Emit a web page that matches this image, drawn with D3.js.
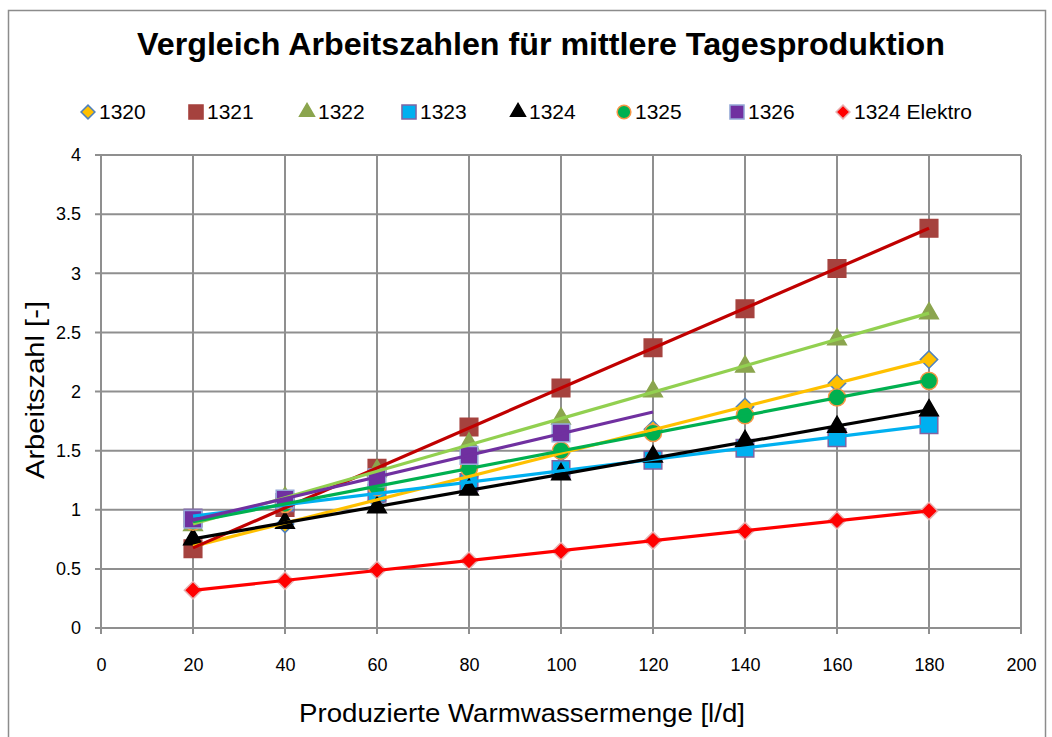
<!DOCTYPE html>
<html>
<head>
<meta charset="utf-8">
<script src="https://cdn.jsdelivr.net/npm/d3@7"></script>
<style>
  body { margin: 0; background: #fff; }
  text { font-family: "Liberation Sans Narrow", "Liberation Sans", Arial, sans-serif; fill: #000; }
</style>
</head>
<body>
<svg width="1052" height="737"></svg>
<script>
// values
var xValues = [20, 40, 60, 80, 100, 120, 140, 160, 180];
var s1320 = [0.70, 0.88, 1.08, 1.28, 1.48, 1.68, 1.87, 2.07, 2.27];
var s1321 = [0.67, 1.02, 1.35, 1.70, 2.03, 2.37, 2.70, 3.04, 3.38];
var s1322 = [0.87, 1.10, 1.33, 1.56, 1.77, 2.00, 2.21, 2.44, 2.66];
var s1323 = [0.93, 1.06, 1.14, 1.23, 1.34, 1.42, 1.52, 1.61, 1.72];
var s1324 = [0.75, 0.89, 1.02, 1.17, 1.30, 1.45, 1.58, 1.70, 1.84];
var s1325 = [0.90, 1.05, 1.19, 1.35, 1.50, 1.65, 1.80, 1.95, 2.09];
var s1326 = [0.92, 1.09, 1.27, 1.46, 1.65];
var sElektro = [0.32, 0.40, 0.49, 0.57, 0.65, 0.74, 0.82, 0.91, 0.99];

var seriesNames = ["1320", "1321", "1322", "1323", "1324", "1325", "1326", "1324 Elektro"];
var seriesValues = [s1320, s1321, s1322, s1323, s1324, s1325, s1326, sElektro];
// x end of the linear trend line (1326 is projected 20 l/d forward)
var trendTo = [180, 180, 180, 180, 180, 180, 120, 180];

var xTicks = [0, 20, 40, 60, 80, 100, 120, 140, 160, 180, 200];
var yTicks = [0, 0.5, 1, 1.5, 2, 2.5, 3, 3.5, 4];

// styles
var markerShape = ["diamond", "square", "triangle", "square", "triangle", "circle", "square", "diamond"];
var markerFill = ["#FFC000", "#A5423E", "#8BA54E", "#00B0F0", "#000000", "#00B050", "#7030A0", "#FF0000"];
var markerStroke = ["#4F81BD", "#A5423E", "#8BA54E", "#8064A2", "#000000", "#F79646", "#95A9D8", "#E6B0B0"];
var trendColor = ["#FFC000", "#C00000", "#92D050", "#00B0F0", "#000000", "#00B050", "#7030A0", "#FF0000"];

var svg = d3.select("svg");

var x = d3.scaleLinear().domain([0, 200]).range([101, 1021]);
var y = d3.scaleLinear().domain([0, 4]).range([628, 155]);

// chart area border
svg.append("rect")
  .attr("x", 8.5).attr("y", 10.5).attr("width", 1037).attr("height", 740)
  .attr("fill", "#fff").attr("stroke", "#8c8c8c").attr("stroke-width", 1.5);

// title
svg.append("text")
  .attr("x", 541).attr("y", 55)
  .attr("text-anchor", "middle")
  .attr("font-size", 31).attr("font-weight", "bold")
  .attr("textLength", 808).attr("lengthAdjust", "spacingAndGlyphs")
  .text("Vergleich Arbeitszahlen für mittlere Tagesproduktion");

// grid
svg.append("g").selectAll("line").data(xTicks).enter().append("line")
  .attr("x1", d => x(d)).attr("x2", d => x(d))
  .attr("y1", y(4)).attr("y2", y(0) + 6)
  .attr("stroke", "#8f8f8f").attr("stroke-width", 2);
svg.append("g").selectAll("line").data(yTicks).enter().append("line")
  .attr("x1", x(0) - 6).attr("x2", x(200))
  .attr("y1", d => y(d)).attr("y2", d => y(d))
  .attr("stroke", "#8f8f8f").attr("stroke-width", 2);

// axes (labels only, grid already drawn)
var xAxis = svg.append("g")
  .attr("transform", "translate(0," + (y(0)) + ")")
  .call(d3.axisBottom(x).tickValues(xTicks).tickSize(0).tickPadding(30));
var yAxis = svg.append("g")
  .attr("transform", "translate(" + (x(0) - 20) + ",0)")
  .call(d3.axisLeft(y).tickValues(yTicks).tickSize(0).tickPadding(0).tickFormat(d3.format("")));
[xAxis, yAxis].forEach(function (g) {
  g.select(".domain").remove();
  g.selectAll("text").attr("font-size", 18).attr("fill", "#000")
    .style("font-family", '"Liberation Sans Narrow", "Liberation Sans", Arial, sans-serif');
});

// axis titles
svg.append("text")
  .attr("x", 522).attr("y", 722)
  .attr("text-anchor", "middle").attr("font-size", 25)
  .attr("textLength", 446).attr("lengthAdjust", "spacingAndGlyphs")
  .text("Produzierte Warmwassermenge [l/d]");
svg.append("text")
  .attr("transform", "translate(44,390) rotate(-90)")
  .attr("text-anchor", "middle").attr("font-size", 25)
  .attr("textLength", 178).attr("lengthAdjust", "spacingAndGlyphs")
  .text("Arbeitszahl [-]");

function symbolPath(shape, big) {
  var k = big ? 1 : 0.8;
  if (shape === "square") return d3.symbol(d3.symbolSquare, 310 * k * k)();
  if (shape === "diamond") return d3.symbol(d3.symbolSquare, 150 * k * k)();
  if (shape === "triangle") return d3.symbol(d3.symbolTriangle, 150 * k * k)();
  return d3.symbol(d3.symbolCircle, 230 * k * k)();
}
function symbolRot(shape) { return shape === "diamond" ? " rotate(45)" : ""; }

// markers
seriesValues.forEach(function (vals, i) {
  svg.append("g").selectAll("path").data(vals).enter().append("path")
    .attr("d", symbolPath(markerShape[i], true))
    .attr("transform", (d, j) => "translate(" + x(xValues[j]) + "," + y(d) + ")" + symbolRot(markerShape[i]))
    .attr("fill", markerFill[i])
    .attr("stroke", markerStroke[i])
    .attr("stroke-width", 1.5);
});

// linear trend lines on top of markers
seriesValues.forEach(function (vals, i) {
  var xs = xValues.slice(0, vals.length);
  var mx = d3.mean(xs), my = d3.mean(vals);
  var b = d3.sum(xs, (d, j) => (d - mx) * (vals[j] - my)) / d3.sum(xs, d => (d - mx) * (d - mx));
  var a = my - b * mx;
  var ends = [xs[0], trendTo[i]];
  svg.append("path")
    .datum(ends)
    .attr("d", d3.line().x(d => x(d)).y(d => y(a + b * d)))
    .attr("fill", "none")
    .attr("stroke", trendColor[i])
    .attr("stroke-width", 3.2);
});

// legend
var legendX = [88, 196, 307, 409, 518, 624, 737, 843];
var legend = svg.append("g");
seriesNames.forEach(function (name, i) {
  legend.append("path")
    .attr("d", symbolPath(markerShape[i], false))
    .attr("transform", "translate(" + legendX[i] + ",112)" + symbolRot(markerShape[i]))
    .attr("fill", markerFill[i])
    .attr("stroke", markerStroke[i])
    .attr("stroke-width", 1.5);
  legend.append("text")
    .attr("x", legendX[i] + 11).attr("y", 119)
    .attr("font-size", 21)
    .text(name);
});
</script>
</body>
</html>
